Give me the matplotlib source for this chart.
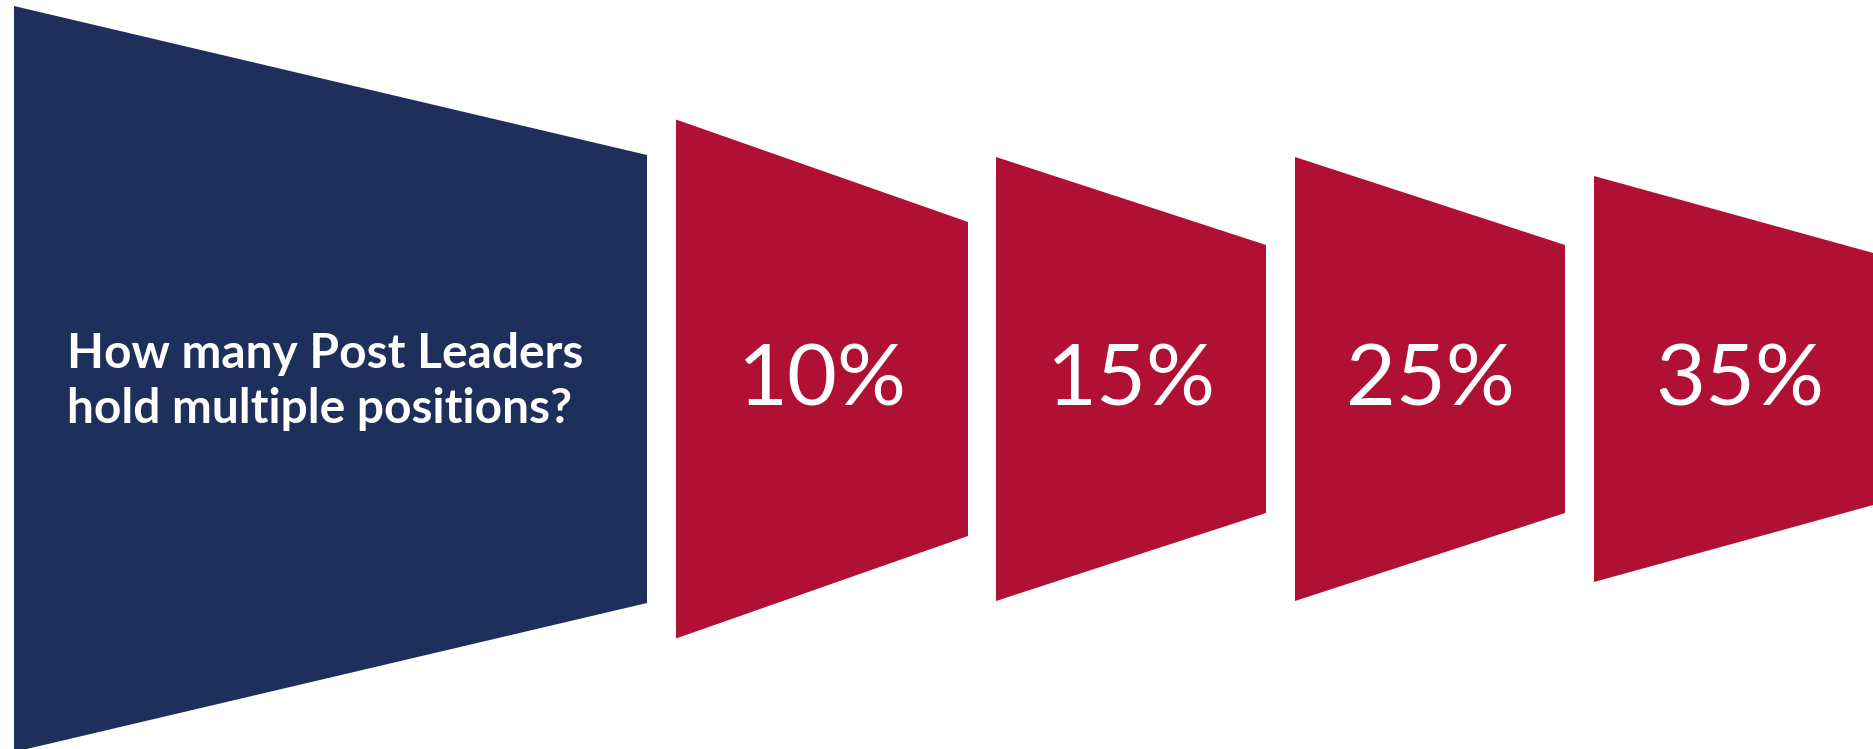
import matplotlib
matplotlib.use("Agg")
import matplotlib.pyplot as plt

# ---- data ----
question_lines = ["How many Post Leaders", "hold multiple positions?"]
percent_labels = ["10%", "15%", "25%", "35%"]

# shape geometry (pixel space of the 1873x749 canvas)
x_left = [14, 676, 996, 1295, 1594]
x_right = [647, 968, 1266, 1565, 1886]
half_left = [373, 259.5, 222, 222, 203]
half_right = [224, 157, 134, 134, 122.5]
center_y = 379
shape_colors = ["#1E2F5B", "#B11035", "#B11035", "#B11035", "#B11035"]

W, H = 1873, 749
fig = plt.figure(figsize=(W / 100, H / 100), dpi=100)
ax = fig.add_axes([0, 0, 1, 1])
ax.set_xlim(0, W)
ax.set_ylim(H, 0)
ax.axis("off")

for xl, xr, hl, hr, c in zip(x_left, x_right, half_left, half_right, shape_colors):
    xs = [xl, xr, xr, xl]
    ys = [center_y - hl, center_y - hr, center_y + hr, center_y + hl]
    ax.fill(xs, ys, color=c, lw=0)

# question text (left aligned lines)
q_x = 67
q_baselines = [368, 423]
for line, yb in zip(question_lines, q_baselines):
    ax.text(q_x, yb, line, color="white", fontsize=34.5, fontweight="bold",
            family="Lato", ha="left", va="baseline")

# percentages
for i, lab in enumerate(percent_labels):
    cx = (x_left[i + 1] + x_right[i + 1]) / 2
    ax.text(cx, 406, lab, color="white", fontsize=62, family="Lato",
            ha="center", va="baseline")

fig.savefig("out.png", dpi=100)
